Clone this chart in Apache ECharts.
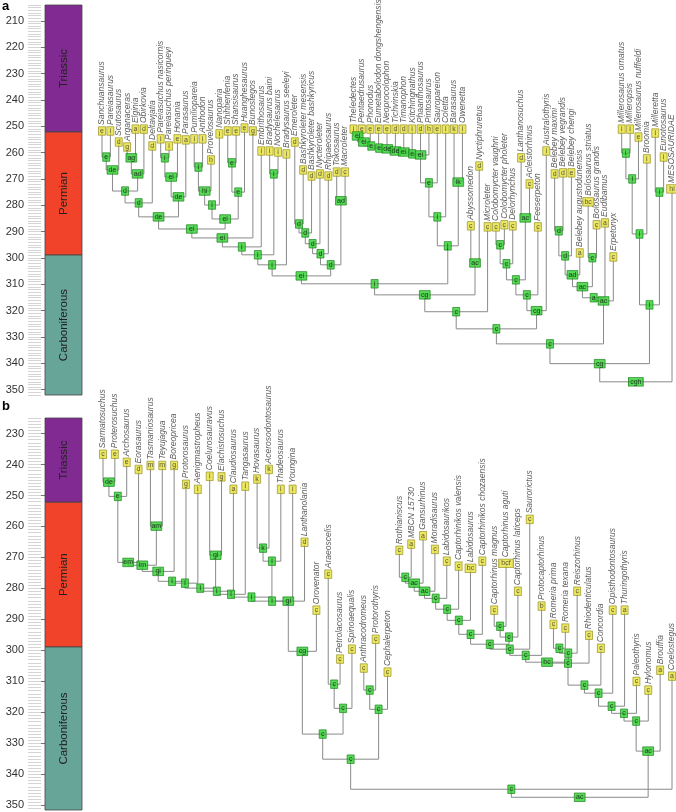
<!DOCTYPE html>
<html><head><meta charset="utf-8">
<script src="https://cdn.jsdelivr.net/npm/echarts/dist/echarts.min.js"></script>
<style>html,body{margin:0;padding:0;background:#fff}#c{width:676px;height:812px}</style>
</head><body><div id="c"></div><script>
// ---------- geological periods ----------
const periodNames = ['Triassic', 'Permian', 'Carboniferous'];
const periodTop = [201.4, 252.2, 298.9];
const periodBase = [252.2, 298.9, 358.9];
const periodColors = ['#812b92', '#f0432a', '#67a599'];

// ---------- panel a ----------
const aTicks = [210, 220, 230, 240, 250, 260, 270, 280, 290, 300, 310, 320, 330, 340, 350];
const aTipNames = ['Sanchuansaurus','Pareiasaurus','Scutosaurus','Arganaceras','Elginia','Obirkovia','Deltavjatia','Pareiasuchus nasicornis','Pareiasuchus peringueyi','Honania','Parasaurus','Pumiliopareia','Anthodon','Provelosaurus','Nanoparia','Shihtienfenia','Shansisaurus','Huanghesaurus','Bunostegos','Embrithosaurus','Bradysaurus baini','Nochelesaurus','Bradysaurus seeleyi','Emeroleter','Bashkyroleter mesensis','Bashkyroleter bashkyricus','Nycteroleter','Rhipaeosaurus','Tokosaurus','Macroleter','Theledectes','Pentaedrusaurus','Phonodus','Eumetabolodon dongshengensis','Neoprocolophon','Tichvinskia','Timanophon','Kitchingnathus','Phaanthosaurus','Pintosaurus','Sauropareion','Coletta','Barasaurus','Owenetta','Abyssomedon','Nyctiphruretus','Microleter','Colobomycter vaughni','Colobomycter pholeter','Delorhynchus','Lanthanosuchus','Acleistorhinus','Feeserpeton','Australothyris','Belebey maximi','Belebey vegrandis','Belebey chengi','Belebey augustodunensis','Bolosaurus striatus','Bolosaurus grandis','Eudibamus','Erpetonyx','Millerosaurus ornatus','Milleropsis','Millerosaurus nuffieldi','Broomia','Milleretta','Eunotosaurus','MESOSAURIDAE'];
const aTipCodes = ['e','i','d','g','a','d','d','i','i','e','a','i','i','h','i','e','e','e','g','i','i','i','i','d','d','d','d','d','d','c','i','e','e','e','e','d','d','i','d','h','e','i','k','i','c','d','c','c','c','c','d','c','c','i','d','d','e','a','bc','c','a','c','i','i','e','i','i','i','hi'];
const aTipAges = [251.8,251.8,256.0,257.9,251.1,251.1,257.5,254.8,257.5,254.8,255.2,254.8,254.8,262.8,252.9,251.8,251.8,250.7,251.8,259.4,259.4,259.8,260.5,256.0,266.6,268.9,268.1,268.9,267.4,267.4,251.1,251.1,251.1,251.1,251.1,251.1,251.1,251.1,251.1,251.1,251.1,251.1,251.1,251.1,287.8,265.1,288.2,288.2,287.4,287.8,262.0,271.9,288.2,259.4,268.1,267.7,267.7,298.1,278.7,287.4,286.7,299.6,251.1,251.1,254.1,262.4,252.6,261.7,273.8];
const aNodeKids = [[0,1],['n0',2],[3,4],['n2',5],['n1','n3'],['n4',6],[7,8],['n6',9],['n7',10],['n5','n8'],[11,12],['n10',13],['n11',14],[15,16],['n13',17],['n12','n14'],['n9','n15'],['n16',18],['n17',19],[20,21],['n18','n19'],['n20',22],[23,24],['n22',25],['n23',26],['n24',27],[28,29],['n25','n26'],['n21','n27'],[30,31],['n29',32],['n30',33],['n31',34],['n32',35],['n33',36],['n34',37],['n35',38],['n36',39],['n37',40],['n38',41],[42,43],['n39','n40'],['n28','n41'],[44,45],['n42','n43'],['n44',46],[47,48],['n46',49],[50,51],['n47','n48'],['n49',52],['n50',53],['n45','n51'],[54,55],['n53',56],['n54',57],[58,59],['n55','n56'],['n57',60],['n58',61],['n52','n59'],[62,63],['n61',64],['n62',65],[66,67],['n63','n64'],['n60','n65'],['n66',68]];
const aNodeCodes = ['e','de','ag','ad','d','d','i','ei','de','de','i','hi','i','e','e','ei','ei','ei','i','i','i','i','d','d','d','d','ad','d','ei','ei','ei','e','e','de','de','ei','e','ei','e','i','ik','j','i','ac','cg','c','c','c','ac','c','c','cg','c','d','d','ad','c','ac','a','ac','c','i','i','i','i','i','cg','cgh'];
const aNodeAges = [261.7,266.6,262.0,268.1,274.6,279.1,262.0,269.3,276.8,284.4,265.5,274.6,279.9,263.9,275.0,285.2,289.0,292.4,295.8,268.1,298.8,302.6,287.1,290.5,294.6,298.4,278.3,302.6,306.8,253.7,256.0,257.5,258.3,258.6,259.4,259.8,260.5,260.9,271.5,284.4,271.2,295.4,309.8,301.9,314.0,320.4,295.0,302.2,284.8,308.3,314.0,320.0,326.9,289.7,299.2,306.4,299.9,310.9,315.1,316.3,332.6,260.2,270.0,290.9,275.0,317.8,340.1,347.0];

// ---------- panel b ----------
const bTicks = [230, 240, 250, 260, 270, 280, 290, 300, 310, 320, 330, 340, 350];
const bTipNames = ['Sarmatosuchus','Proterosuchus','Archosaurus','Eorasaurus','Tasmaniosaurus','Teyujagua','Boreopricea','Protorosaurus','Aenigmastropheus','Coelurosauravus','Elachistosuchus','Claudiosaurus','Tangasaurus','Hovasaurus','Acerosodontosaurus','Thadeosaurus','Youngina','Lanthanolania','Orovenator','Araeoscelis','Petrolacosaurus','Spinoaequalis','Anthracodromeus','Protorothyris','Cephalerpeton','Rothianiscus','MBCN 15730','Gansurhinus','Moradisaurus','Labidosaurikos','Captorhinikos valensis','Labidosaurus','Captorhinikos chozaensis','Captorhinus magnus','Captorhinus aguti','Captorhinus laticeps','Saurorictus','Protocaptorhinus','Romeria prima','Romeria texana','Reiszorhinus','Rhiodenticulatus','Concordia','Opisthodontosaurus','Thuringothyris','Paleothyris','Hylonomus','Brouffia','Coelostegus'];
const bTipCodes = ['c','e','e','d','m','m','g','g','i','i','g','a','i','k','k','i','i','d','c','c','c','c','c','c','c','c','a','a','c','c','c','bc','c','c','bcf','c','c','b','c','c','c','c','c','c','a','c','c','a','a'];
const bTipAges = [236.7,236.7,239.3,241.6,240.3,240.3,240.3,246.4,248.0,243.8,244.0,248.0,247.0,244.7,241.6,248.0,248.0,265.1,287.0,275.4,302.8,299.6,305.7,296.4,307.0,267.7,265.7,263.0,267.4,271.2,272.8,273.5,271.2,287.0,271.9,280.9,257.7,285.7,291.6,292.8,280.9,295.1,299.3,287.0,287.0,310.0,312.8,306.4,308.3];
const bNodeKids = [[0,1],['m0',2],['m1',3],[4,5],['m2','m3'],['m4',6],['m5',7],['m6',8],[9,10],['m7','m8'],['m9',11],['m10',12],[13,14],['m12',15],['m11','m13'],['m14',16],['m15',17],['m16',18],[19,20],['m18',21],[22,23],['m20',24],['m17','m19'],['m22','m21'],[25,26],['m24',27],['m25',28],['m26',29],['m27',30],['m28',31],['m29',32],[33,34],['m31',35],['m30','m32'],['m33',36],['m34',37],[38,39],['m36',40],['m35','m37'],['m38',41],['m39',42],['m40',43],['m41',44],['m42',45],['m43',46],['m44',47],['m23',48],['m46','m45']];
const bNodeCodes = ['de','e','em','am','im','gi','i','i','gi','i','i','i','k','i','i','i','gi','cg','c','c','c','c','c','c','c','ac','ac','c','c','c','c','c','c','c','c','c','c','c','bc','c','c','c','c','c','c','ac','c','ac'];
const bNodeAges = [245.7,250.3,271.6,259.9,272.5,274.5,277.7,278.3,269.3,279.9,280.9,281.9,267.0,271.2,282.8,284.1,284.1,300.3,310.9,318.7,312.8,319.0,327.0,335.1,276.4,278.3,280.9,283.2,286.7,290.3,294.8,292.2,295.7,298.0,299.6,301.6,299.3,300.9,303.8,304.1,311.2,313.8,318.0,320.3,322.8,332.5,344.8,347.4];

// ---------- helpers ----------
function buildTree(tipCodes, tipAges, kids, nodeCodes, nodeAges) {
  const nodeX = [];
  const ref = r => (typeof r === 'number') ? [r, tipAges[r]] : [nodeX[+r.slice(1)], nodeAges[+r.slice(1)]];
  const lines = [];
  kids.forEach((k, i) => {
    const L = ref(k[0]), R = ref(k[1]);
    nodeX[i] = (L[0] + R[0]) / 2;
    lines.push({coords: [[L[0], L[1]], [L[0], nodeAges[i]], [R[0], nodeAges[i]], [R[0], R[1]]]});
  });
  const tips = tipAges.map((a, i) => ({value: [i, a], code: tipCodes[i]}));
  const nodes = nodeAges.map((a, i) => ({value: [nodeX[i], a], code: nodeCodes[i]}));
  return {lines, tips, nodes};
}
const boxW = c => 3.2 + 3.8 * c.length;
const FONT = 'Liberation Sans, Arial, Helvetica, sans-serif';

function columnRender(params, api) {
  const cs = params.coordSys;
  const i = params.dataIndex;
  const p0 = api.coord([0, periodTop[i]]);
  const p1 = api.coord([0, periodBase[i]]);
  const y0 = Math.max(p0[1], cs.y), y1 = Math.min(p1[1], cs.y + cs.height);
  if (y1 <= y0) return;
  return {type: 'group', children: [
    {type: 'rect', shape: {x: cs.x, y: y0, width: cs.width, height: y1 - y0},
     style: {fill: periodColors[i], stroke: '#444', lineWidth: 0.8}},
    {type: 'text', x: cs.x + cs.width / 2, y: (y0 + y1) / 2, rotation: Math.PI / 2,
     style: {text: periodNames[i], fill: '#222', fontSize: 11.5, fontFamily: FONT, align: 'center', verticalAlign: 'middle'}}
  ]};
}

const grids = [], xAxes = [], yAxes = [], series = [];
function addPanel(p) {
  const g0 = grids.length;
  grids.push({left: 45, width: 37, top: p.top, height: p.height});
  grids.push({left: p.treeLeft, width: p.treeWidth, top: p.top, height: p.height});
  xAxes.push({gridIndex: g0, type: 'value', min: 0, max: 1, show: false});
  xAxes.push({gridIndex: g0 + 1, type: 'value', min: 0, max: p.tipCount - 1, show: false});
  const minor = [];
  for (let v = Math.ceil(p.min); v <= Math.floor(p.max); v++) minor.push(v);
  const yBase = {type: 'value', inverse: true, min: p.min, max: p.max, splitLine: {show: false}};
  const ya = yAxes.length;
  yAxes.push(Object.assign({}, yBase, {gridIndex: g0, position: 'left', axisLine: {show: false},
    axisTick: {show: true, customValues: p.ticks, length: 17, lineStyle: {color: '#777', width: 1}},
    axisLabel: {show: true, customValues: p.ticks, margin: 21, fontSize: 11, color: '#333', fontFamily: FONT}}));
  yAxes.push(Object.assign({}, yBase, {gridIndex: g0, position: 'left', offset: 4, axisLine: {show: false},
    axisTick: {show: true, customValues: minor, length: 13, lineStyle: {color: '#d4d4d4', width: 1}},
    axisLabel: {show: false}}));
  yAxes.push(Object.assign({}, yBase, {gridIndex: g0 + 1, show: false}));
  series.push({type: 'custom', xAxisIndex: g0, yAxisIndex: ya, renderItem: columnRender,
    data: periodNames.map((n, i) => [0, periodTop[i], periodBase[i]]), clip: false, silent: true});
  const t = p.tree;
  const xi = g0 + 1, yi = ya + 2;
  series.push({type: 'lines', coordinateSystem: 'cartesian2d', xAxisIndex: xi, yAxisIndex: yi, polyline: true,
    data: t.lines, lineStyle: {color: '#8a8a8a', width: 1, opacity: 1}, silent: true, z: 1});
  series.push({type: 'scatter', xAxisIndex: xi, yAxisIndex: yi, data: t.tips.map((d, i) => ({value: d.value, name: p.names[i]})),
    symbolSize: 0, silent: true, z: 2,
    label: {show: true, position: 'top', distance: 6, rotate: 90, align: 'left', verticalAlign: 'middle',
      formatter: q => q.name, fontSize: 8.5, fontStyle: 'italic', color: '#333', fontFamily: FONT}});
  series.push({type: 'scatter', xAxisIndex: xi, yAxisIndex: yi, symbol: 'rect', silent: true, z: 3,
    data: t.tips.map(d => ({value: d.value, code: d.code, symbolSize: [boxW(d.code), 8.5]})),
    itemStyle: {color: '#e8e23a', borderColor: '#8f8a1c', borderWidth: 0.8},
    label: {show: true, position: 'inside', formatter: q => q.data.code, fontSize: 7, color: '#333', fontFamily: FONT}});
  series.push({type: 'scatter', xAxisIndex: xi, yAxisIndex: yi, symbol: 'rect', silent: true, z: 4,
    data: t.nodes.map(d => ({value: d.value, code: d.code, symbolSize: [boxW(d.code), 8.5]})),
    itemStyle: {color: '#2fd12f', borderColor: '#127a12', borderWidth: 0.8},
    label: {show: true, position: 'inside', formatter: q => q.data.code, fontSize: 7, color: '#111', fontFamily: FONT}});
}

addPanel({top: 5, height: 390, min: 204, max: 352, ticks: aTicks, treeLeft: 102, treeWidth: 570,
  tipCount: aTipNames.length, names: aTipNames,
  tree: buildTree(aTipCodes, aTipAges, aNodeKids, aNodeCodes, aNodeAges)});
addPanel({top: 418, height: 392, min: 225, max: 351.5, ticks: bTicks, treeLeft: 103, treeWidth: 569,
  tipCount: bTipNames.length, names: bTipNames,
  tree: buildTree(bTipCodes, bTipAges, bNodeKids, bNodeCodes, bNodeAges)});

const chart = echarts.init(document.getElementById('c'), null, {renderer: 'canvas'});
chart.setOption({
  animation: false,
  backgroundColor: '#fff',
  grid: grids, xAxis: xAxes, yAxis: yAxes, series: series,
  graphic: [
    {type: 'text', left: 2, top: 0, style: {text: 'a', font: 'bold 13px ' + FONT, fill: '#000'}},
    {type: 'text', left: 2, top: 400, style: {text: 'b', font: 'bold 13px ' + FONT, fill: '#000'}}
  ]
});
</script></body></html>
